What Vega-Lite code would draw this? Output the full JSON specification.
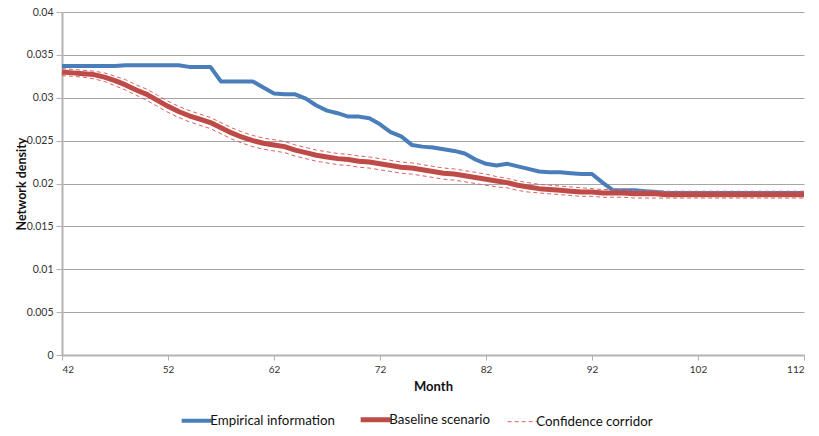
{
  "$schema": "https://vega.github.io/schema/vega-lite/v6.json",
  "width": 742,
  "height": 343,
  "autosize": {"type": "none"},
  "padding": {"left": 62, "top": 12, "right": 15, "bottom": 81},
  "background": "white",
  "config": {
    "font": "Lato",
    "view": {"stroke": null},
    "axis": {
      "domainColor": "#b3b3b3",
      "domainWidth": 2,
      "tickColor": "#b3b3b3",
      "tickWidth": 1,
      "labelColor": "#333333",
      "titleColor": "#111111",
      "titleFontWeight": "bold",
      "gridColor": "#a6a6a6",
      "gridWidth": 1
    }
  },
  "data": {
    "values": [
      {"m": 42, "e": 0.0337, "b": 0.0330, "u": 0.0334, "l": 0.0326},
      {"m": 43, "e": 0.0337, "b": 0.0329, "u": 0.0333, "l": 0.0325},
      {"m": 44, "e": 0.0337, "b": 0.0328, "u": 0.0332, "l": 0.0324},
      {"m": 45, "e": 0.0337, "b": 0.0327, "u": 0.0331, "l": 0.0322},
      {"m": 46, "e": 0.0337, "b": 0.0324, "u": 0.0329, "l": 0.0319},
      {"m": 47, "e": 0.0337, "b": 0.0320, "u": 0.0325, "l": 0.0314},
      {"m": 48, "e": 0.0338, "b": 0.0315, "u": 0.0321, "l": 0.0309},
      {"m": 49, "e": 0.0338, "b": 0.0309, "u": 0.0315, "l": 0.0303},
      {"m": 50, "e": 0.0338, "b": 0.0304, "u": 0.0310, "l": 0.0297},
      {"m": 51, "e": 0.0338, "b": 0.0297, "u": 0.0303, "l": 0.0290},
      {"m": 52, "e": 0.0338, "b": 0.0290, "u": 0.0296, "l": 0.0283},
      {"m": 53, "e": 0.0338, "b": 0.0284, "u": 0.0290, "l": 0.0277},
      {"m": 54, "e": 0.0336, "b": 0.0279, "u": 0.0285, "l": 0.0272},
      {"m": 55, "e": 0.0336, "b": 0.0275, "u": 0.0281, "l": 0.0268},
      {"m": 56, "e": 0.0336, "b": 0.0271, "u": 0.0277, "l": 0.0264},
      {"m": 57, "e": 0.0319, "b": 0.0265, "u": 0.0271, "l": 0.0258},
      {"m": 58, "e": 0.0319, "b": 0.0259, "u": 0.0265, "l": 0.0252},
      {"m": 59, "e": 0.0319, "b": 0.0254, "u": 0.0260, "l": 0.0247},
      {"m": 60, "e": 0.0319, "b": 0.0250, "u": 0.0256, "l": 0.0243},
      {"m": 61, "e": 0.0312, "b": 0.0247, "u": 0.0253, "l": 0.0240},
      {"m": 62, "e": 0.0305, "b": 0.0245, "u": 0.0251, "l": 0.0238},
      {"m": 63, "e": 0.0304, "b": 0.0243, "u": 0.0249, "l": 0.0236},
      {"m": 64, "e": 0.0304, "b": 0.0239, "u": 0.0245, "l": 0.0232},
      {"m": 65, "e": 0.0299, "b": 0.0236, "u": 0.0242, "l": 0.0229},
      {"m": 66, "e": 0.0291, "b": 0.0233, "u": 0.0239, "l": 0.0226},
      {"m": 67, "e": 0.0285, "b": 0.0231, "u": 0.0237, "l": 0.0224},
      {"m": 68, "e": 0.0282, "b": 0.0229, "u": 0.0235, "l": 0.0222},
      {"m": 69, "e": 0.0278, "b": 0.0228, "u": 0.0234, "l": 0.0221},
      {"m": 70, "e": 0.0278, "b": 0.0226, "u": 0.0232, "l": 0.0219},
      {"m": 71, "e": 0.0276, "b": 0.0225, "u": 0.0231, "l": 0.0218},
      {"m": 72, "e": 0.0269, "b": 0.0223, "u": 0.0229, "l": 0.0216},
      {"m": 73, "e": 0.0260, "b": 0.0221, "u": 0.0227, "l": 0.0214},
      {"m": 74, "e": 0.0255, "b": 0.0219, "u": 0.0225, "l": 0.0212},
      {"m": 75, "e": 0.0245, "b": 0.0218, "u": 0.0224, "l": 0.0211},
      {"m": 76, "e": 0.0243, "b": 0.0216, "u": 0.0222, "l": 0.0209},
      {"m": 77, "e": 0.0242, "b": 0.0214, "u": 0.0220, "l": 0.0207},
      {"m": 78, "e": 0.0240, "b": 0.0212, "u": 0.0218, "l": 0.0205},
      {"m": 79, "e": 0.0238, "b": 0.0211, "u": 0.0217, "l": 0.0204},
      {"m": 80, "e": 0.0235, "b": 0.0209, "u": 0.0215, "l": 0.0202},
      {"m": 81, "e": 0.0228, "b": 0.0207, "u": 0.0213, "l": 0.0200},
      {"m": 82, "e": 0.0223, "b": 0.0205, "u": 0.0211, "l": 0.0198},
      {"m": 83, "e": 0.0221, "b": 0.0203, "u": 0.0208, "l": 0.0196},
      {"m": 84, "e": 0.0223, "b": 0.0201, "u": 0.0206, "l": 0.0195},
      {"m": 85, "e": 0.0220, "b": 0.0198, "u": 0.0203, "l": 0.0192},
      {"m": 86, "e": 0.0217, "b": 0.0196, "u": 0.0201, "l": 0.0190},
      {"m": 87, "e": 0.0214, "b": 0.0194, "u": 0.0199, "l": 0.0189},
      {"m": 88, "e": 0.0213, "b": 0.0193, "u": 0.0198, "l": 0.0188},
      {"m": 89, "e": 0.0213, "b": 0.0192, "u": 0.0197, "l": 0.0187},
      {"m": 90, "e": 0.0212, "b": 0.0191, "u": 0.0196, "l": 0.0186},
      {"m": 91, "e": 0.0211, "b": 0.0190, "u": 0.0195, "l": 0.0185},
      {"m": 92, "e": 0.0211, "b": 0.0190, "u": 0.0194, "l": 0.0185},
      {"m": 93, "e": 0.0201, "b": 0.0189, "u": 0.0193, "l": 0.0184},
      {"m": 94, "e": 0.0192, "b": 0.0189, "u": 0.0193, "l": 0.0184},
      {"m": 95, "e": 0.0192, "b": 0.0189, "u": 0.0193, "l": 0.0184},
      {"m": 96, "e": 0.0192, "b": 0.0188, "u": 0.0192, "l": 0.0183},
      {"m": 97, "e": 0.0191, "b": 0.0188, "u": 0.0192, "l": 0.0183},
      {"m": 98, "e": 0.0190, "b": 0.0188, "u": 0.0192, "l": 0.0183},
      {"m": 99, "e": 0.0189, "b": 0.0187, "u": 0.0191, "l": 0.0183},
      {"m": 100, "e": 0.0189, "b": 0.0187, "u": 0.0191, "l": 0.0183},
      {"m": 101, "e": 0.0189, "b": 0.0187, "u": 0.0191, "l": 0.0183},
      {"m": 102, "e": 0.0189, "b": 0.0187, "u": 0.0191, "l": 0.0183},
      {"m": 103, "e": 0.0189, "b": 0.0187, "u": 0.0191, "l": 0.0183},
      {"m": 104, "e": 0.0189, "b": 0.0187, "u": 0.0191, "l": 0.0183},
      {"m": 105, "e": 0.0189, "b": 0.0187, "u": 0.0191, "l": 0.0183},
      {"m": 106, "e": 0.0189, "b": 0.0187, "u": 0.0191, "l": 0.0183},
      {"m": 107, "e": 0.0189, "b": 0.0187, "u": 0.0191, "l": 0.0183},
      {"m": 108, "e": 0.0189, "b": 0.0187, "u": 0.0191, "l": 0.0183},
      {"m": 109, "e": 0.0189, "b": 0.0187, "u": 0.0191, "l": 0.0183},
      {"m": 110, "e": 0.0189, "b": 0.0187, "u": 0.0191, "l": 0.0183},
      {"m": 111, "e": 0.0189, "b": 0.0187, "u": 0.0191, "l": 0.0183},
      {"m": 112, "e": 0.0189, "b": 0.0187, "u": 0.0191, "l": 0.0183}
    ]
  },
  "transform": [{"fold": ["e", "b", "u", "l"], "as": ["series", "value"]}],
  "encoding": {
    "x": {
      "field": "m",
      "type": "quantitative",
      "scale": {"domain": [42, 112], "nice": false, "zero": false},
      "axis": {
        "values": [42, 52, 62, 72, 82, 92, 102, 112],
        "title": "Month",
        "grid": false,
        "labelFontSize": 10,
        "tickSize": 5,
        "labelPadding": 4,
        "titleFontSize": 13,
        "titlePadding": 6
      }
    },
    "y": {
      "field": "value",
      "type": "quantitative",
      "scale": {"domain": [0, 0.04], "nice": false},
      "axis": {
        "values": [0, 0.005, 0.01, 0.015, 0.02, 0.025, 0.03, 0.035, 0.04],
        "format": "~g",
        "title": "Network density",
        "grid": true,
        "labelFontSize": 10.5,
        "tickSize": 6,
        "labelPadding": 3,
        "titleFontSize": 12.5,
        "titleX": -34,
        "titleY": 171.5,
        "titleBaseline": "bottom"
      }
    },
    "color": {
      "field": "series",
      "type": "nominal",
      "scale": {"domain": ["e", "b", "u", "l"], "range": ["#4a7ebb", "#be4b48", "#d9625f", "#d9625f"]},
      "legend": {
        "values": ["e", "b", "u"],
        "title": null,
        "orient": "none",
        "direction": "horizontal",
        "legendX": 128,
        "legendY": 401,
        "symbolType": "stroke",
        "symbolSize": 900,
        "labelFontSize": 13.3,
        "labelColor": "#111111",
        "labelOffset": 7,
        "columnPadding": 15,
        "labelExpr": "datum.label == 'e' ? 'Empirical information' : datum.label == 'b' ? 'Baseline scenario' : 'Confidence corridor'",
        "encode": {
          "symbols": {
            "update": {
              "strokeWidth": {"signal": "datum.value == 'u' ? 1 : datum.value == 'b' ? 5 : 4"},
              "strokeDash": {"signal": "datum.value == 'u' ? [4, 3] : [1, 0]"}
            }
          }
        }
      }
    }
  },
  "layer": [
    {
      "transform": [{"filter": "datum.series == 'e'"}],
      "mark": {"type": "line", "strokeWidth": 4, "strokeJoin": "round"}
    },
    {
      "transform": [{"filter": "datum.series == 'b'"}],
      "mark": {"type": "line", "strokeWidth": 5, "strokeJoin": "round"}
    },
    {
      "transform": [{"filter": "datum.series == 'u' || datum.series == 'l'"}],
      "mark": {"type": "line", "strokeWidth": 1, "strokeDash": [4, 3]}
    }
  ]
}
